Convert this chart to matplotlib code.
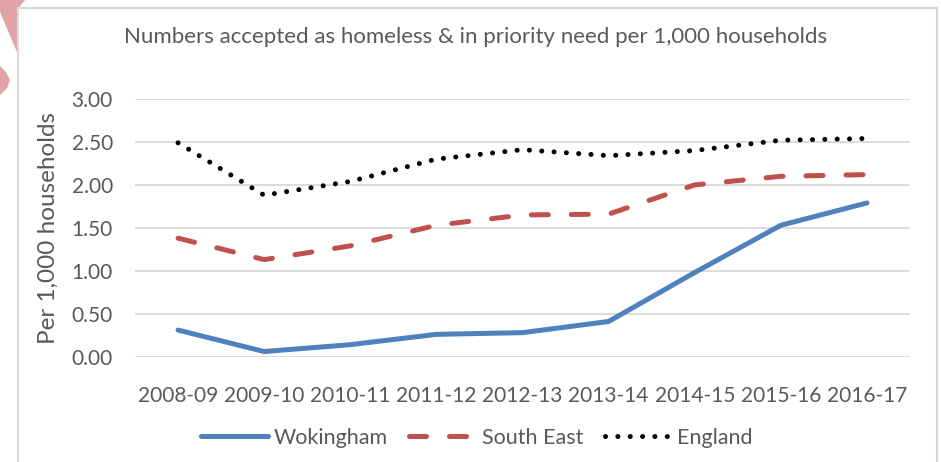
import matplotlib
matplotlib.use("Agg")
import matplotlib.pyplot as plt
from matplotlib.patches import Polygon, Rectangle

# Homelessness acceptances per 1,000 households
years = ["2008-09", "2009-10", "2010-11", "2011-12", "2012-13",
         "2013-14", "2014-15", "2015-16", "2016-17"]
wokingham = [0.31, 0.06, 0.14, 0.26, 0.28, 0.41, 0.98, 1.53, 1.79]
south_east = [1.38, 1.13, 1.29, 1.53, 1.65, 1.66, 2.00, 2.10, 2.12]
england = [2.49, 1.88, 2.04, 2.30, 2.41, 2.34, 2.40, 2.52, 2.54]

TEXT = "#595959"
W, H = 941, 462
LW = 3.6

plt.rcParams["font.family"] = ["Lato", "DejaVu Sans"]

fig = plt.figure(figsize=(W / 100, H / 100), dpi=100, facecolor="white")

# pink corner decoration and chart frame (pixel coords -> figure fraction)
def px(pts):
    return [(x / W, 1 - y / H) for x, y in pts]

fig.patches.append(Polygon(px([(0, 0), (25, 0), (17, 10), (17, 52), (0, 12)]),
                           closed=True, transform=fig.transFigure,
                           facecolor="#E2A3A6", edgecolor="none"))
fig.patches.append(Polygon(px([(0, 66), (6, 72), (10, 80), (7, 88), (0, 95)]),
                           closed=True, transform=fig.transFigure,
                           facecolor="#E2A3A6", edgecolor="none"))
fig.patches.append(Rectangle((18 / W, -0.1), (937 - 18) / W, 1.1 - 8 / H,
                             transform=fig.transFigure, facecolor="none",
                             edgecolor="#D9D9D9", linewidth=1.5))

ax = fig.add_axes([135 / W, 1 - 356.7 / H, (910 - 135) / W, (356.7 - 99) / H])
x = range(len(years))

ax.plot(x, wokingham, color="#4F81BD", linewidth=LW, solid_capstyle="round",
        solid_joinstyle="round", label="Wokingham", zorder=3)
ax.plot(x, south_east, color="#C0504D", linewidth=LW, dashes=(3.4, 4.6),
        dash_capstyle="round", label="South East", zorder=3)
ax.plot(x, england, color="black", linewidth=LW, dashes=(0.01, 2.46),
        dash_capstyle="round", label="England", zorder=3)

ax.set_xlim(-0.5, len(years) - 0.5)
ax.set_ylim(0, 3)
ax.set_yticks([0, 0.5, 1, 1.5, 2, 2.5, 3])
ax.set_yticklabels([f"{v:.2f}" for v in ax.get_yticks()])
ax.set_xticks(list(x))
ax.set_xticklabels(years)
ax.tick_params(axis="both", length=0, labelsize=15, labelcolor=TEXT)
ax.tick_params(axis="x", pad=21)
ax.tick_params(axis="y", pad=16)
ax.grid(axis="y", color="#D9D9D9", linewidth=1.3)
ax.set_axisbelow(True)
for s in ax.spines.values():
    s.set_visible(False)

fig.text(48 / W, 1 - 228 / H, "Per 1,000 households", rotation=90,
         ha="center", va="center", fontsize=17.5, color=TEXT)
fig.text(476 / W, 1 - 37 / H, "Numbers accepted as homeless & in priority need per 1,000 households",
         ha="center", va="center", fontsize=16, color=TEXT)

ax.legend(loc="center", bbox_to_anchor=(477 / W, 1 - 438 / H),
          bbox_transform=fig.transFigure, ncol=3, frameon=False,
          fontsize=15.5, labelcolor=TEXT, handlelength=3.1, handletextpad=0.27,
          columnspacing=1.0, borderpad=0)

fig.savefig("out.png", dpi=100, facecolor="white")
